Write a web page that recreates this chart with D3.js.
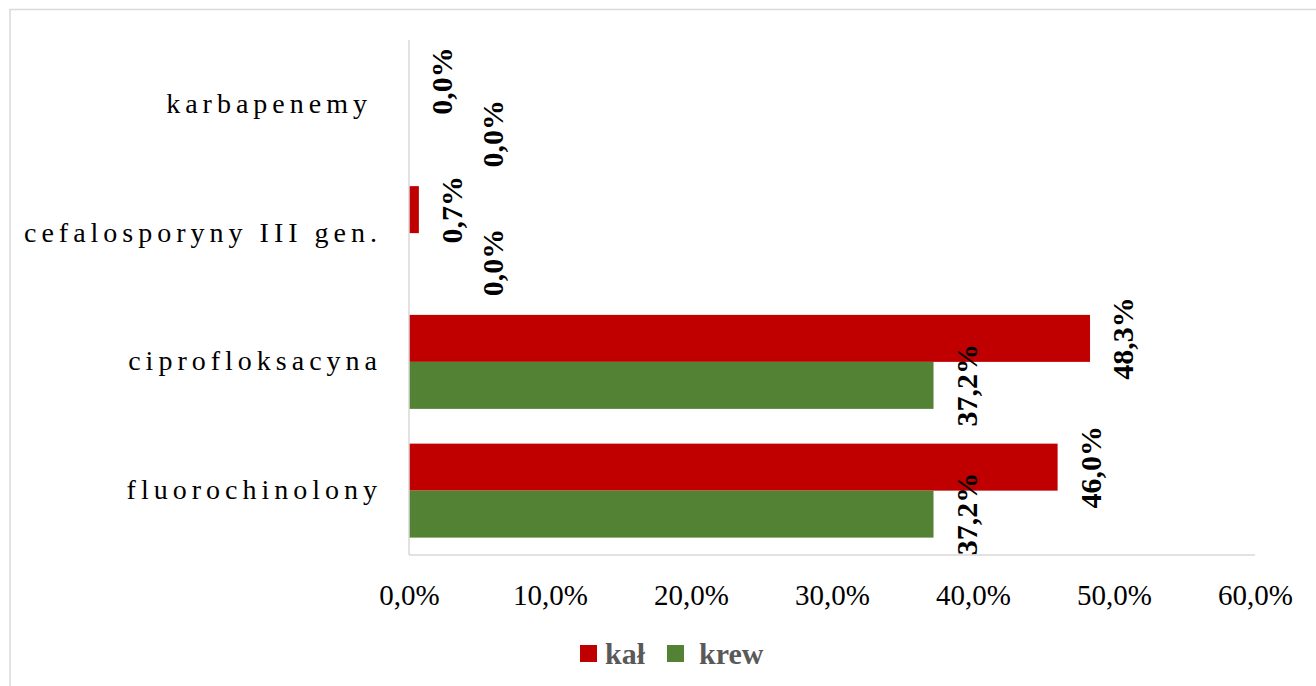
<!DOCTYPE html>
<html>
<head>
<meta charset="utf-8">
<script src="https://cdn.jsdelivr.net/npm/d3@7"></script>
<style>
  html, body { margin: 0; padding: 0; background: #fff; }
  svg { display: block; }
</style>
</head>
<body>
<svg id="chart" width="1316" height="686"></svg>
<script>
// Antibiotic classes, listed top to bottom
const categories = ["karbapenemy", "cefalosporyny III gen.", "ciprofloksacyna", "fluorochinolony"];
const seriesNames = ["kał", "krew"];
const kalValues = [0.0, 0.007, 0.483, 0.460];
const krewValues = [0.0, 0.0, 0.372, 0.372];
const tickValues = [0, 0.1, 0.2, 0.3, 0.4, 0.5, 0.6];
const seriesColors = ["#c00000", "#548235"];

const fmt = v => (v * 100).toFixed(1).replace(".", ",") + "%";

const svg = d3.select("#chart");

// outer chart frame
svg.append("rect")
  .attr("x", 10).attr("y", 9.5)
  .attr("width", 1400).attr("height", 800)
  .attr("fill", "none").attr("stroke", "#d9d9d9").attr("stroke-width", 1.5);

const x = d3.scaleLinear().domain([0, 0.6]).range([409, 1255]);
const y = d3.scaleBand().domain(categories).range([40, 555]);
const gapRatio = 0.74;
const barH = y.bandwidth() / (2 + gapRatio);
const inner = d3.scaleBand().domain(seriesNames)
  .range([barH * gapRatio / 2, barH * gapRatio / 2 + 2 * barH]);

const rows = categories.map((c, i) => ({ cat: c, values: [kalValues[i], krewValues[i]] }));

// bars
const g = svg.append("g");
rows.forEach(r => {
  r.values.forEach((v, si) => {
    g.append("rect")
      .attr("x", x(0))
      .attr("y", y(r.cat) + inner(seriesNames[si]))
      .attr("width", x(v) - x(0))
      .attr("height", inner.bandwidth())
      .attr("fill", seriesColors[si]);
  });
});

// axis lines
svg.append("line")
  .attr("x1", x(0)).attr("x2", x(0)).attr("y1", 40).attr("y2", 555)
  .attr("stroke", "#d9d9d9").attr("stroke-width", 1.5);
svg.append("line")
  .attr("x1", x(0)).attr("x2", x(0.6)).attr("y1", 555).attr("y2", 555)
  .attr("stroke", "#d9d9d9").attr("stroke-width", 1.5);

// x tick labels
const xAxis = d3.axisBottom(x).tickValues(tickValues).tickFormat(fmt).tickSize(0).tickPadding(0);
const xg = svg.append("g").attr("transform", "translate(0,605)").call(xAxis);
xg.select(".domain").remove();
xg.selectAll("text")
  .attr("dy", 0)
  .attr("font-family", "'Liberation Serif', 'Times New Roman', serif")
  .attr("font-size", 29)
  .attr("fill", "#000");

// category labels
const yAxis = d3.axisLeft(y).tickSize(0).tickPadding(0);
const yg = svg.append("g").attr("transform", "translate(382,0)").call(yAxis);
yg.select(".domain").remove();
yg.selectAll("text")
  .attr("dy", "0.3em")
  .attr("dx", (d, i) => i === 0 ? -10 : 0)
  .attr("font-family", "'Liberation Serif', 'Times New Roman', serif")
  .attr("font-size", 28)
  .attr("letter-spacing", 5)
  .attr("fill", "#000");

// rotated value labels; a label that would collide with its neighbour is pushed right
const labelFont = 30;
const labelLen = s => s.length * 0.56 * labelFont;
rows.forEach(r => {
  let prev = null;
  r.values.forEach((v, si) => {
    const txt = fmt(v);
    const cy = y(r.cat) + inner(seriesNames[si]) + inner.bandwidth() / 2;
    let bx = x(v) + 43;
    let dy = 0;
    const half = labelLen(txt) / 2;
    if (prev && Math.abs(prev.bx - bx) < 30 && (cy - half) < prev.bottom) {
      bx += 51;
      dy = 6;
    }
    svg.append("text")
      .attr("transform", `translate(${bx},${cy + dy}) rotate(-90)`)
      .attr("text-anchor", "middle")
      .attr("font-family", "'Liberation Serif', 'Times New Roman', serif")
      .attr("font-weight", "bold")
      .attr("font-size", labelFont)
      .attr("fill", "#000")
      .text(txt);
    prev = { bx, bottom: cy + dy + half };
  });
});

// legend
const legend = svg.append("g");
const legendX = [580, 667];
seriesNames.forEach((n, i) => {
  legend.append("rect")
    .attr("x", legendX[i]).attr("y", 645)
    .attr("width", 17).attr("height", 17)
    .attr("fill", seriesColors[i]);
  legend.append("text")
    .attr("x", legendX[i] + (i === 0 ? 25 : 32)).attr("y", 664)
    .attr("font-family", "'Liberation Serif', 'Times New Roman', serif")
    .attr("font-weight", "bold")
    .attr("font-size", 30)
    .attr("fill", "#595959")
    .text(n);
});
</script>
</body>
</html>
